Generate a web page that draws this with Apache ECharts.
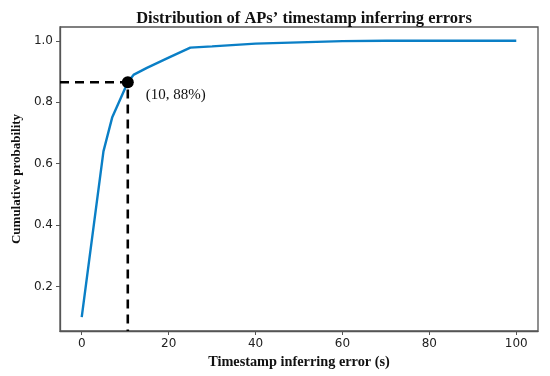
<!DOCTYPE html>
<html>
<head>
<meta charset="utf-8">
<script src="https://cdn.jsdelivr.net/npm/echarts@6/dist/echarts.min.js"></script>
<style>html,body{margin:0;padding:0;background:#fff}#c{width:550px;height:376px}</style>
</head>
<body>
<div id="c"></div>
<script>
const errorX = [0, 5, 7, 10.6, 12, 15, 20, 25, 30, 40, 50, 60, 70, 80, 90, 100];
const cumProb = [0.10, 0.64, 0.75, 0.865, 0.89, 0.912, 0.945, 0.978, 0.982, 0.991, 0.995, 0.999, 1.0, 1.0, 1.0, 1.0];
const xTicks = [0, 20, 40, 60, 80, 100];
const yTicks = [0.2, 0.4, 0.6, 0.8, 1.0];
const markPoint = [10.6, 0.865];
const markLabel = '(10, 88%)';
const xRange = [-5, 105];
const yRange = [0.055, 1.045];

const chart = echarts.init(document.getElementById('c'), null, {renderer: 'canvas'});
const serif = '"Liberation Serif", "DejaVu Serif", serif';
const sans = '"DejaVu Sans", sans-serif';
const axisCommon = {
  axisLine: {show: true, onZero: false, lineStyle: {color: '#555', width: 1.3}},
  axisTick: {show: true, length: 4, lineStyle: {color: '#555', width: 1}},
  splitLine: {show: false}
};
chart.setOption({
  animation: false,
  title: {
    text: "Distribution of APs\u2019 timestamp inferring errors",
    left: 299, textAlign: 'center', top: 5,
    textStyle: {fontFamily: serif, fontWeight: 'bold', fontSize: 16.5, color: '#111'}
  },
  grid: {left: 60, right: 12, top: 27, bottom: 45, show: true, borderColor: '#555', borderWidth: 1.3, backgroundColor: 'transparent'},
  xAxis: Object.assign({}, axisCommon, {
    type: 'value', min: xRange[0], max: xRange[1],
    name: 'Timestamp inferring error (s)', nameLocation: 'middle', nameGap: 24,
    nameTextStyle: {fontFamily: serif, fontWeight: 'bold', fontSize: 14.3, color: '#111'},
    axisTick: Object.assign({}, axisCommon.axisTick, {customValues: xTicks}),
    axisLabel: {customValues: xTicks, fontFamily: sans, fontSize: 12, color: '#222', margin: 7}
  }),
  yAxis: Object.assign({}, axisCommon, {
    type: 'value', min: yRange[0], max: yRange[1],
    name: 'Cumulative probability', nameLocation: 'middle', nameGap: 35, nameRotate: 90,
    nameTextStyle: {fontFamily: serif, fontWeight: 'bold', fontSize: 13, color: '#111'},
    axisTick: Object.assign({}, axisCommon.axisTick, {customValues: yTicks}),
    axisLabel: {customValues: yTicks, fontFamily: sans, fontSize: 12, color: '#222', margin: 7,
      formatter: v => v.toFixed(1)}
  }),
  series: [
    {
      type: 'line', data: errorX.map((x, i) => [x, cumProb[i]]),
      showSymbol: false, symbol: 'none',
      lineStyle: {color: '#0a7fc6', width: 2.4}, z: 2
    },
    {
      type: 'line',
      data: [[xRange[0], markPoint[1]], markPoint, [markPoint[0], yRange[0]]],
      showSymbol: false, symbol: 'none',
      lineStyle: {color: '#000', width: 2.6, type: [9, 6]}, z: 3
    },
    {
      type: 'scatter', data: [markPoint], symbol: 'circle', symbolSize: 12,
      itemStyle: {color: '#000', opacity: 1}, z: 5,
      label: {show: true, formatter: markLabel, position: 'right', offset: [7, 13],
        fontFamily: serif, fontSize: 15, color: '#111'}
    }
  ]
});
</script>
</body>
</html>
